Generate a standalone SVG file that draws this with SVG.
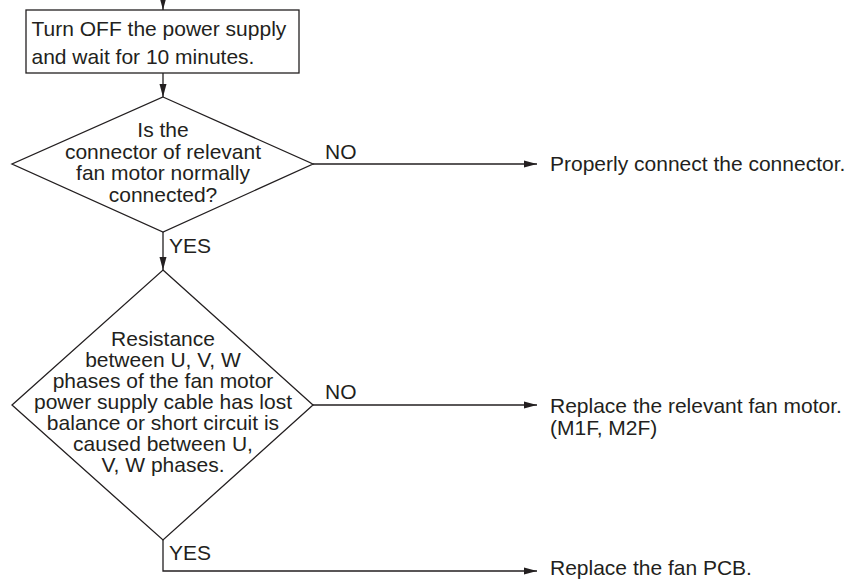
<svg xmlns="http://www.w3.org/2000/svg" width="858" height="579" viewBox="0 0 858 579">
  <style>
    .shape { fill: #ffffff; stroke: #231f20; stroke-width: 1.3; }
    .line { fill: none; stroke: #231f20; stroke-width: 1.3; }
    text { font-family: "Liberation Sans", Arial, sans-serif; font-size: 21px; fill: #231f20; }
    .c { text-anchor: middle; }
  </style>
  <defs>
    <marker id="arrow" markerUnits="userSpaceOnUse" markerWidth="13" markerHeight="8" refX="13" refY="4" orient="auto">
      <path d="M0,0.5 L13,4 L0,7.5 z" fill="#231f20"/>
    </marker>
  </defs>
  <rect width="858" height="579" fill="#ffffff"/>

  <g id="connectors">
    <line class="line" x1="163" y1="0" x2="163" y2="10" marker-end="url(#arrow)"/>
    <line class="line" x1="163" y1="73" x2="163" y2="97" marker-end="url(#arrow)"/>
    <line class="line" x1="313" y1="164" x2="537" y2="164" marker-end="url(#arrow)"/>
    <line class="line" x1="163" y1="232" x2="163" y2="270" marker-end="url(#arrow)"/>
    <line class="line" x1="313" y1="405" x2="537" y2="405" marker-end="url(#arrow)"/>
    <path class="line" d="M163,540 L163,571 L537,571" marker-end="url(#arrow)"/>
    <text x="325" y="159">NO</text>
    <text x="169" y="253">YES</text>
    <text x="325" y="399">NO</text>
    <text x="169" y="560">YES</text>
  </g>

  <g id="step-power-off">
    <rect class="shape" x="26" y="10" width="273" height="63"/>
    <text x="31.5" y="35.5">Turn OFF the power supply</text>
    <text x="31.5" y="64">and wait for 10 minutes.</text>
  </g>

  <g id="decision-connector">
    <polygon class="shape" points="163,97 313,164 163,232 12,164"/>
    <text class="c" x="163" y="137">Is the</text>
    <text class="c" x="163" y="158.5">connector of relevant</text>
    <text class="c" x="163" y="180">fan motor normally</text>
    <text class="c" x="163" y="201.5">connected?</text>
  </g>

  <g id="decision-resistance">
    <polygon class="shape" points="163,270 313,405 163,540 12,405"/>
    <text class="c" x="163" y="345.5">Resistance</text>
    <text class="c" x="163" y="366.5">between U, V, W</text>
    <text class="c" x="163" y="387.5">phases of the fan motor</text>
    <text class="c" x="163" y="408.5">power supply cable has lost</text>
    <text class="c" x="163" y="429.5">balance or short circuit is</text>
    <text class="c" x="163" y="450.5">caused between U,</text>
    <text class="c" x="163" y="471.5">V, W phases.</text>
  </g>

  <g id="action-connect">
    <text x="550" y="171">Properly connect the connector.</text>
  </g>

  <g id="action-replace-motor">
    <text x="550" y="413">Replace the relevant fan motor.</text>
    <text x="550" y="435">(M1F, M2F)</text>
  </g>

  <g id="action-replace-pcb">
    <text x="550" y="574.5">Replace the fan PCB.</text>
  </g>
</svg>
